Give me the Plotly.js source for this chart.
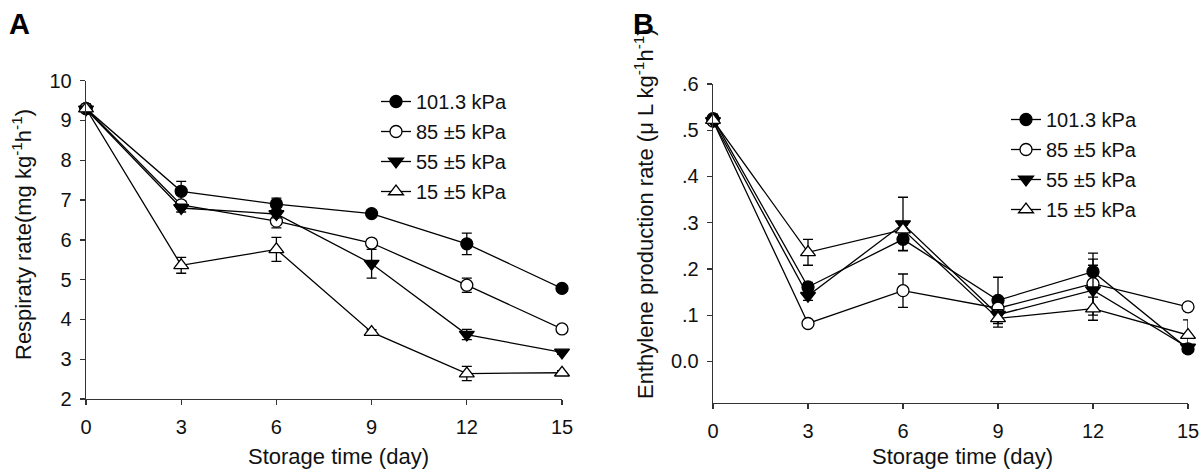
<!DOCTYPE html>
<html>
<head>
<meta charset="utf-8">
<script src="https://cdn.plot.ly/plotly-3.0.1.min.js"></script>
<style>html,body{margin:0;padding:0;background:#fff;}#chart{width:1200px;height:471px;}</style>
</head>
<body>
<div id="chart"></div>
<script>
// Shared x values: storage time (day)
const days = [0, 3, 6, 9, 12, 15];
const seriesNames = ["101.3 kPa", "85 \u00b15 kPa", "55 \u00b15 kPa", "15 \u00b15 kPa"];

// Panel A: respiratory rate (mg kg-1 h-1)
const respA101 = [9.30, 7.22, 6.90, 6.66, 5.90, 4.78];
const respA85  = [9.30, 6.88, 6.47, 5.92, 4.86, 3.76];
const respA55  = [9.28, 6.80, 6.65, 5.40, 3.62, 3.17];
const respA15  = [9.30, 5.36, 5.76, 3.68, 2.64, 2.66];
const respErr101 = [0.08, 0.25, 0.15, 0.06, 0.27, 0.06];
const respErr85  = [0.08, 0.10, 0.17, 0.06, 0.18, 0.06];
const respErr55  = [0.08, 0.10, 0.10, 0.36, 0.13, 0.05];
const respErr15  = [0.12, 0.20, 0.30, 0.06, 0.18, 0.05];

// Panel B: ethylene production rate (uL kg-1 h-1)
const ethB101 = [0.525, 0.161, 0.264, 0.132, 0.194, 0.027];
const ethB85  = [0.520, 0.082, 0.153, 0.115, 0.168, 0.118];
const ethB55  = [0.520, 0.142, 0.297, 0.101, 0.154, 0.030];
const ethB15  = [0.522, 0.236, 0.285, 0.093, 0.114, 0.057];
const ethErr101 = [0.010, 0.010, 0.024, 0.050, 0.040, 0.008];
const ethErr85  = [0.010, 0.005, 0.036, 0.010, 0.053, 0.008];
const ethErr55  = [0.010, 0.010, 0.058, 0.010, 0.054, 0.008];
const ethErr15  = [0.010, 0.028, 0.010, 0.019, 0.025, 0.033];

const yTickValsA = [2, 3, 4, 5, 6, 7, 8, 9, 10];
const yTickValsB = [0, 0.1, 0.2, 0.3, 0.4, 0.5, 0.6];
const yTickTextB = ["0.0", ".1", ".2", ".3", ".4", ".5", ".6"];

const FONT = "Liberation Sans, Arial, Helvetica, sans-serif";

const styles = [
  {symbol: "circle", color: "#000", lineColor: "#000", size: 12},
  {symbol: "circle", color: "#fff", lineColor: "#000", size: 12},
  {symbol: "triangle-down", color: "#000", lineColor: "#000", size: 13},
  {symbol: "triangle-up", color: "#fff", lineColor: "#000", size: 13}
];

function mk(y, err, i, xa, ya, legend) {
  const s = styles[i];
  return {
    type: "scatter", mode: "lines+markers",
    x: days, y: y,
    xaxis: xa, yaxis: ya,
    name: seriesNames[i],
    legend: legend,
    legendgroup: legend + i,
    line: {color: "#000", width: 1.3},
    marker: {symbol: s.symbol, size: s.size, color: s.color, line: {color: s.lineColor, width: 1.3}},
    error_y: {type: "data", array: err, visible: true, color: "#000", thickness: 1.3, width: 5},
    cliponaxis: false
  };
}

const data = [
  mk(respA101, respErr101, 0, "x", "y", "legend"),
  mk(respA85, respErr85, 1, "x", "y", "legend"),
  mk(respA55, respErr55, 2, "x", "y", "legend"),
  mk(respA15, respErr15, 3, "x", "y", "legend"),
  mk(ethB101, ethErr101, 0, "x2", "y2", "legend2"),
  mk(ethB85, ethErr85, 1, "x2", "y2", "legend2"),
  mk(ethB55, ethErr55, 2, "x2", "y2", "legend2"),
  mk(ethB15, ethErr15, 3, "x2", "y2", "legend2")
];

const axisCommon = {
  showline: true, linecolor: "#333", linewidth: 1.3,
  showgrid: false, zeroline: false,
  ticks: "outside", ticklen: 5, tickwidth: 1.3, tickcolor: "#333",
  tickfont: {family: FONT, size: 20, color: "#111"},
  fixedrange: true
};

const W = 1200, H = 471;
const px = v => v / W;
const py = v => 1 - v / H;

const legendFont = {family: FONT, size: 20, color: "#111"};

const layout = {
  width: W, height: H,
  margin: {l: 0, r: 0, t: 0, b: 0},
  paper_bgcolor: "#fff", plot_bgcolor: "#fff",
  font: {family: FONT, color: "#111"},
  showlegend: true,
  xaxis: Object.assign({}, axisCommon, {domain: [px(86), px(562)], range: [0, 15], tickvals: days, anchor: "y", ticklabelstandoff: 5}),
  yaxis: Object.assign({}, axisCommon, {domain: [py(399), py(80.7)], range: [2, 10], tickvals: yTickValsA, anchor: "x", ticklabelstandoff: 4}),
  xaxis2: Object.assign({}, axisCommon, {domain: [px(713), px(1188)], range: [0, 15], tickvals: days, anchor: "y2", ticklabelstandoff: 5}),
  yaxis2: Object.assign({}, axisCommon, {domain: [py(403), py(84)], range: [-0.09, 0.6], tickvals: yTickValsB, ticktext: yTickTextB, anchor: "x2", ticklabelstandoff: 4}),
  legend: {x: px(376), y: py(82), xanchor: "left", yanchor: "top", bgcolor: "rgba(0,0,0,0)",
    font: legendFont, tracegroupgap: 1, itemwidth: 30},
  legend2: {x: px(1006), y: py(100), xanchor: "left", yanchor: "top", bgcolor: "rgba(0,0,0,0)",
    font: legendFont, tracegroupgap: 1, itemwidth: 30},
  annotations: [
    {text: "<b>A</b>", x: px(7), y: py(6), xref: "paper", yref: "paper", xanchor: "left", yanchor: "top", showarrow: false, font: {family: FONT, size: 29, color: "#000"}},
    {text: "<b>B</b>", x: px(631), y: py(6), xref: "paper", yref: "paper", xanchor: "left", yanchor: "top", showarrow: false, font: {family: FONT, size: 29, color: "#000"}},
    {text: "Storage time (day)", x: px(339), y: py(456), xref: "paper", yref: "paper", xanchor: "center", yanchor: "middle", showarrow: false, font: {family: FONT, size: 22, color: "#111"}},
    {text: "Storage time (day)", x: px(962), y: py(456), xref: "paper", yref: "paper", xanchor: "center", yanchor: "middle", showarrow: false, font: {family: FONT, size: 22, color: "#111"}},
    {text: "Respiraty rate(mg kg<sup>-1</sup>h<sup>-1</sup>)", x: px(22), y: py(235), xref: "paper", yref: "paper", xanchor: "center", yanchor: "middle", textangle: -90, showarrow: false, font: {family: FONT, size: 22, color: "#111"}},
    {text: "Enthylene production rate (\u03bc L kg<sup>-1</sup>h<sup>-1</sup>)", x: px(644), y: py(214), xref: "paper", yref: "paper", xanchor: "center", yanchor: "middle", textangle: -90, showarrow: false, font: {family: FONT, size: 22, color: "#111"}}
  ]
};

Plotly.newPlot("chart", data, layout, {staticPlot: true, displayModeBar: false});
</script>
</body>
</html>
